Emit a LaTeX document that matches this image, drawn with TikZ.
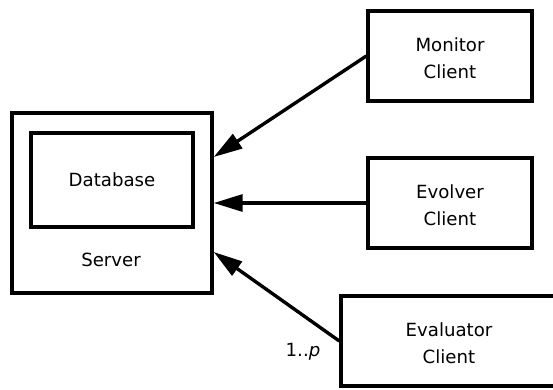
\documentclass[tikz,border=0pt]{standalone}
\usepackage{fontspec}
\setmainfont{DejaVu Sans}
\usetikzlibrary{arrows.meta,positioning}

\begin{document}
\begin{tikzpicture}[
    x=0.025cm, y=-0.025cm,
    font=\fontsize{12.9}{18.7}\selectfont,
    link/.style={-{Triangle[length=0.72cm, width=0.42cm]}, line width=2.4pt},
    box/.style={
        draw=black,
        line width=2.4pt,
        align=center,
        fill=white
    },
    client/.style={
        box,
        minimum width=4.1cm,
        minimum height=2.25cm
    }
]

% Stable crop.
\path[use as bounding box] (0,0) rectangle (553,389);

% --------------------------------------------------
% Server with its database
% --------------------------------------------------
\node[box, minimum width=5cm, minimum height=4.5cm] (server) at (112,203) {};
\node[box, minimum width=4.05cm, minimum height=2.35cm] (db) at (112,180) {Database};
\node (srvname) at (111,260) {Server};

% --------------------------------------------------
% Clients
% --------------------------------------------------
\node[client] (monitor) at (450,56)  {\strut Monitor\\Client};
\node[client] (evolver) at (450,203) {\strut Evolver\\Client};
\node[client, minimum width=5.4cm] (evaluator) at (449,341) {\strut Evaluator\\Client};

% Entry points on the server's right side.
\coordinate (mon_in)  at ([yshift=1.15cm]server.east);
\coordinate (eval_in) at ([yshift=-1.225cm]server.east);

% --------------------------------------------------
% Client connections
% --------------------------------------------------
\draw[link] (monitor.west) -- (mon_in);
\draw[link] (evolver.west) -- (server.east);
\draw[link] (evaluator.west) -- (eval_in);

\node (mult) at (303,352) {1..\textit{p}};

\end{tikzpicture}
\end{document}
